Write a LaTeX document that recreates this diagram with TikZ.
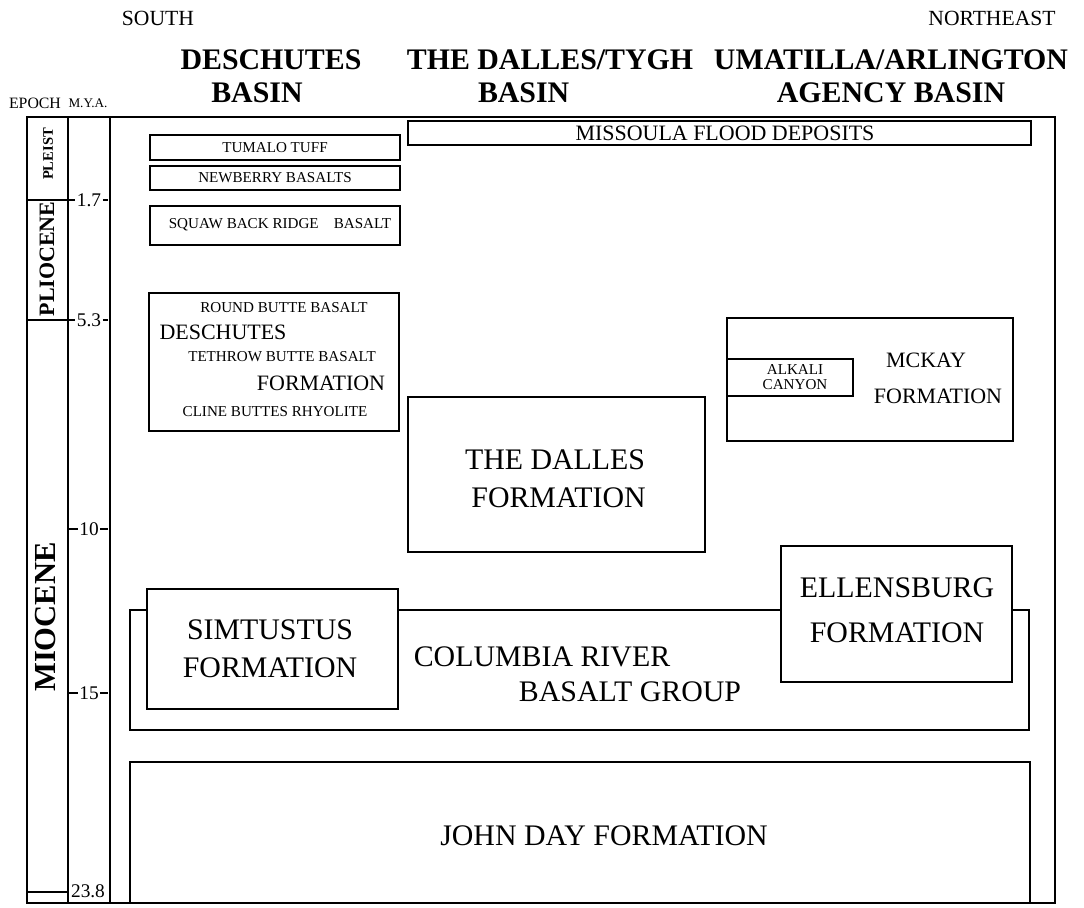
\documentclass[tikz,border=0pt]{standalone}
\usepackage{fontspec}
\setmainfont{Liberation Serif}
\usetikzlibrary{positioning}
\usetikzlibrary{fit}
\tikzset {
  % outer frame and column rules
  frame/.style={draw, line width=1.1pt},
  % boxes of the rock units
  unit/.style={draw, line width=0.9pt, inner sep=0pt, fill=white},
  % lettering
  big/.style={font=\fontsize{17}{21.5}\selectfont, align=center, inner sep=0pt},
  mid/.style={font=\fontsize{12.5}{14}\selectfont, inner sep=0pt},
  small/.style={font=\fontsize{8.6}{8.6}\selectfont, align=center, inner sep=0pt},
  head/.style={font=\bfseries\fontsize{17}{18}\selectfont, inner sep=0pt},
  compass/.style={font=\fontsize{12.3}{13}\selectfont, inner sep=0pt},
  tick/.style={font=\fontsize{11}{12}\selectfont, inner sep=0.8pt},
  epoch/.style={font=\bfseries, rotate=90, inner sep=0pt},
}

\begin{document}
\begin{tikzpicture}[x=0.02cm, y=-0.02cm]
  \useasboundingbox (0,0) rectangle (1084,907);

  % headings
  \node[compass] (south) at (158,18) {SOUTH};
  \node[compass] (northeast) at (992,18) {NORTHEAST};
  \node[head] (deschutes) at (271,60) {DESCHUTES};
  \node[head, below=6.8pt of deschutes, xshift=-8pt] (basinA) {BASIN};
  \node[head] (dalles) at (550,60) {THE DALLES/TYGH};
  \node[head, below=6.8pt of dalles, xshift=-15pt] (basinB) {BASIN};
  \node[head] (umatilla) at (891,60) {UMATILLA/ARLINGTON};
  \node[head, below=6.8pt of umatilla] (agency) {AGENCY BASIN};
  \node[font=\fontsize{9}{10}\selectfont, inner sep=0pt] (epochhd) at (35,103) {EPOCH};
  \node[font=\fontsize{7.5}{8}\selectfont, inner sep=0pt] (myahd) at (88,103) {M.Y.A.};

  % frame and time columns
  \draw[frame] (27,117) rectangle (1055,903);
  \draw[frame] (68,117) -- (68,903);
  \draw[frame] (110,117) -- (110,903);
  \foreach \y in {200,320,892}
    \draw[frame] (27,\y) -- (68,\y);
  \foreach \y/\lab [count=\i] in {200/1.7, 320/5.3, 529/10, 693/15} {
    \node[tick] (age\i) at (89,\y) {\lab};
    \draw[frame] (68,\y) -- (age\i.west);
    \draw[frame] (age\i.east) -- (108,\y);
  }
  \node[tick] (age5) at (88,891) {23.8};

  \node[epoch, font=\bfseries\fontsize{8.3}{9}\selectfont] (pleist) at (48,154) {PLEIST};
  \node[epoch, font=\bfseries\fontsize{12.5}{13}\selectfont] (pliocene) at (47,259) {PLIOCENE};
  \node[epoch, font=\bfseries\fontsize{17.4}{18}\selectfont] (miocene) at (46,617) {MIOCENE};

  % Deschutes Basin
  \node[unit, fit={(150,135) (400,160)}] (tumalo) {};
  \node[small] (tumalotxt) at (tumalo) {TUMALO TUFF};
  \node[unit, fit={(150,166) (400,190)}] (newberry) {};
  \node[small] (newberrytxt) at (newberry) {NEWBERRY BASALTS};
  \node[unit, fit={(150,206) (400,245)}] (squaw) {};
  \node[small] (squawtxt) at (280,225) {SQUAW BACK RIDGE\hspace{1em}BASALT};
  \node[unit, fit={(149,293) (399,431)}] (deschfm) {};
  \node[small] (roundbutte) at (284,308) {ROUND BUTTE BASALT};
  \node[mid] (deschA) at (223,332) {DESCHUTES};
  \node[small] (tethrow) at (282,357) {TETHROW BUTTE BASALT};
  \node[mid] (deschB) at (321,383) {FORMATION};
  \node[small] (cline) at (275,412) {CLINE BUTTES RHYOLITE};

  % The Dalles/Tygh and Umatilla basins
  \node[unit, fit={(408,121) (1031,145)}] (missoula) {};
  \node[mid] (missoulatxt) at (725,133) {MISSOULA FLOOD DEPOSITS};
  \node[unit, fit={(408,397) (705,552)}] (dallesfm) {};
  \node[big] (dallestxt) at (555,479) {THE DALLES\\\hspace{4pt}FORMATION};
  \node[unit, fit={(727,318) (1013,441)}] (mckay) {};
  \node[mid] (mckayA) at (926,360) {MCKAY};
  \node[mid] (mckayB) at (938,396) {FORMATION};
  \node[unit, fit={(727,359) (853,396)}] (alkali) {};
  \node[small] (alkalitxt) at (795,377) {ALKALI\\CANYON};

  % lower units
  \node[unit, fit={(130,610) (1029,730)}] (crbg) {};
  \node[big] (crbgA) at (542,657) {COLUMBIA RIVER};
  \node[big] (crbgB) at (630,692) {BASALT GROUP};
  \node[unit, fit={(147,589) (398,709)}] (simtustus) {};
  \node[big] (simtustustxt) at (270,649) {SIMTUSTUS\\FORMATION};
  \node[unit, fit={(781,546) (1012,682)}] (ellensburg) {};
  \node[big, font=\fontsize{17}{25.5}\selectfont] (ellensburgtxt) at (897,610) {ELLENSBURG\\FORMATION};
  \node[unit, fit={(130,762) (1030,903)}] (johnday) {};
  \node[big] (johndaytxt) at (604,836) {JOHN DAY FORMATION};
\end{tikzpicture}
\end{document}
